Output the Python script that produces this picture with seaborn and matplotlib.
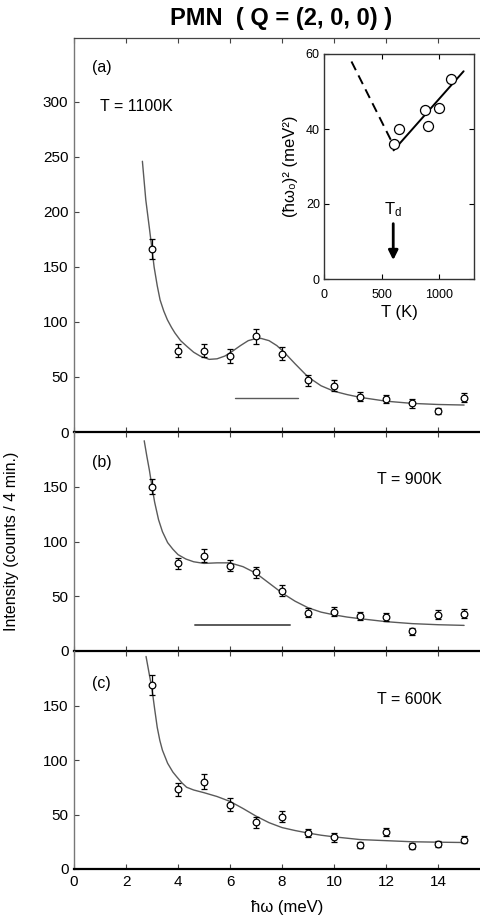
import numpy as np
import pandas as pd
import matplotlib
matplotlib.use("Agg")
import matplotlib.pyplot as plt
import seaborn as sns

# energy transfer (meV) of the measured points, same for all panels
energia = [3, 4, 5, 6, 7, 8, 9, 10, 11, 12, 13, 14, 15]

# (a) T = 1100K
int_a = [166, 74, 74, 69, 87, 71, 47, 42, 32, 30, 26, 19, 31]
err_a = [9, 6, 6, 6, 7, 6, 5, 5, 4, 4, 4, 3, 4]
fit_x_a = [2.63, 2.76, 2.9, 3.0, 3.08, 3.2, 3.31, 3.45, 3.59, 3.75, 3.88, 4.1, 4.33, 4.6, 4.85,
           5.2, 5.5, 5.8, 6.1, 6.4, 6.7, 7.0, 7.2, 7.5, 7.8, 8.1, 8.5, 9.0, 9.5, 10, 10.5, 11,
           12, 13, 14, 15]
fit_y_a = [246, 211, 185, 166, 150, 133, 120, 110, 102, 95, 90, 83, 78, 72.5, 69,
           66, 66.5, 69, 73.5, 78.5, 83, 85, 85, 83, 78.5, 72, 62, 50, 42, 37, 34, 31.5,
           28, 26, 25, 24.5]
res_x_a = [6.2, 8.6]
res_y_a = [31, 31]

# (b) T = 900K
int_b = [150, 80, 87, 78, 72, 55, 35, 36, 32, 31, 18, 33, 34]
err_b = [7, 5, 6, 5, 5, 5, 4, 4, 4, 4, 3, 4, 4]
fit_x_b = [2.7, 2.8, 2.9, 3.0, 3.1, 3.25, 3.4, 3.6, 3.8, 4.0, 4.3, 4.6, 5.0, 5.5, 6.0, 6.5,
           7.0, 7.5, 8.0, 8.5, 9.0, 9.5, 10, 10.5, 11, 12, 13, 14, 15]
fit_y_b = [192, 178, 165, 150, 136, 120, 109, 99, 93, 88, 84, 81.5, 80, 80.5, 80.5, 77,
           71, 62, 53, 45.5, 39.5, 35.5, 33, 31, 29.5, 26.8, 25, 24, 23.4]
res_x_b = [4.65, 8.3]
res_y_b = [23.7, 23.7]

# (c) T = 600K
int_c = [169, 73, 80, 59, 43, 48, 33, 29, 22, 34, 21, 23, 27]
err_c = [9, 6, 7, 6, 5, 5, 4, 4, 3, 4, 3, 3, 3]
fit_x_c = [2.77, 2.9, 3.0, 3.1, 3.2, 3.3, 3.4, 3.6, 3.8, 3.95, 4.15, 4.33, 4.6, 5.0, 5.5, 6.0,
           6.5, 7.0, 7.5, 8.0, 8.5, 9.0, 9.5, 10, 11, 12, 13, 14, 15]
fit_y_c = [195, 178, 165, 147, 130, 118, 109, 97, 89, 84.6, 79, 75, 72.5, 70, 66.5, 62,
           55.5, 48.5, 42.5, 38, 35.3, 33, 31, 29.5, 27, 26, 25, 24.6, 24.3]

# inset: soft mode energy squared vs T
ins_T = [603, 649, 879, 902, 1000, 1100]
ins_w2 = [36.1, 40.0, 45.0, 40.9, 45.6, 53.3]
lin_T = [603, 1210]
lin_w2 = [34.3, 55.4]
dash_T = [238, 592]
dash_w2 = [58, 36.3]
T_d = 600

sns.set_style("ticks")
plt.rcParams['font.family'] = ['Liberation Sans', 'DejaVu Sans']
plt.rcParams['mathtext.fontset'] = 'custom'
plt.rcParams['mathtext.rm'] = 'Liberation Sans'
plt.rcParams['mathtext.it'] = 'Liberation Sans:italic'
for k in ['text.color', 'axes.labelcolor', 'xtick.color', 'ytick.color']:
    plt.rcParams[k] = 'black'

fig = plt.figure(figsize=(4.81, 9.18), dpi=100)
W, H = 481, 918

def px_axes(l, t, r, b):
    return fig.add_axes([l / W, 1 - b / H, (r - l) / W, (b - t) / H])

ax_a = px_axes(74, 38, 481, 432)
ax_b = px_axes(74, 432, 481, 651)
ax_c = px_axes(74, 651, 481, 869)

paneles = [
    (ax_a, int_a, err_a, fit_x_a, fit_y_a, 358, [0, 50, 100, 150, 200, 250, 300]),
    (ax_b, int_b, err_b, fit_x_b, fit_y_b, 200, [0, 50, 100, 150]),
    (ax_c, int_c, err_c, fit_x_c, fit_y_c, 200, [0, 50, 100, 150]),
]

gris = '#5a5a5a'
for ax, yv, ye, fx, fy, ytop, yt in paneles:
    df = pd.DataFrame({'x': fx, 'y': fy})
    sns.lineplot(data=df, x='x', y='y', ax=ax, color=gris, lw=1.0,
                 sort=False, estimator=None)
    ax.errorbar(energia, yv, yerr=ye, fmt='o', mfc='white', mec='black',
                mew=0.9, ms=4.8, ecolor='black', elinewidth=0.9,
                capsize=2.5, capthick=0.9, zorder=5)
    ax.set_xlim(0, 15.65)
    ax.set_ylim(0, ytop)
    ax.set_yticks(yt)
    ax.set_xticks([0, 2, 4, 6, 8, 10, 12, 14])
    ax.tick_params(axis='both', direction='in', length=3.5, width=0.8,
                   labelsize=11, pad=4)
    ax.tick_params(axis='both', color='#444444')
    ax.tick_params(axis='x', top=True)
    ax.spines['right'].set_visible(False)
    ax.spines['left'].set_color('#777777')
    ax.spines['left'].set_linewidth(1.0)
    ax.spines['bottom'].set_color('black')
    ax.spines['bottom'].set_linewidth(1.6)
    ax.spines['top'].set_visible(False)
    ax.set_xlabel('')
    ax.set_ylabel('')
    ax.set_facecolor('none')

for ax in (ax_a, ax_b):
    ax.tick_params(axis='x', labelbottom=False)

ax_a.spines['top'].set_visible(True)
ax_a.spines['top'].set_color('#444444')
ax_a.spines['top'].set_linewidth(0.9)

ax_a.plot(res_x_a, res_y_a, color=gris, lw=1.0)
ax_b.plot(res_x_b, res_y_b, color=gris, lw=1.4)

ax_a.text(0.69, 331, '(a)', fontsize=11.5, va='center')
ax_a.text(1.0, 296, 'T = 1100K', fontsize=11.5, va='center')
ax_b.text(0.69, 172, '(b)', fontsize=11.5, va='center')
ax_b.text(11.65, 157, 'T = 900K', fontsize=11.5, va='center')
ax_c.text(0.69, 170, '(c)', fontsize=11.5, va='center')
ax_c.text(11.65, 155.5, 'T = 600K', fontsize=11.5, va='center')

ax_c.set_xlabel('ħω (meV)', fontsize=12, labelpad=3)
ax_c.xaxis.set_label_coords(0.523, -0.14)
ax_b.set_ylabel('Intensity (counts / 4 min.)', fontsize=11.5)
ax_b.yaxis.set_label_coords(-0.135, 0.5)

fig.text(0.584, 0.980, 'PMN  ( Q = (2, 0, 0) )', ha='center', va='center',
         fontsize=17, fontweight='bold')

# inset
ax_i = px_axes(324, 54, 474, 279)
ax_i.set_facecolor('white')
sns.scatterplot(x=ins_T, y=ins_w2, ax=ax_i, marker='o', s=52,
                facecolor='white', edgecolor='black', linewidth=0.9, zorder=5)
ax_i.plot(lin_T, lin_w2, color='black', lw=1.4)
ax_i.plot(dash_T, dash_w2, color='black', lw=1.4, ls=(0, (5, 3)))
ax_i.set_xlim(0, 1300)
ax_i.set_ylim(0, 60)
ax_i.set_xticks([0, 500, 1000])
ax_i.set_yticks([0, 20, 40, 60])
ax_i.tick_params(axis='both', direction='in', length=3.5, width=0.8,
                 labelsize=9, top=True, right=True)
ax_i.tick_params(axis='x', pad=7)
ax_i.tick_params(axis='y', pad=3)
for s in ax_i.spines.values():
    s.set_visible(True)
    s.set_color('#333333')
    s.set_linewidth(1.0)
ax_i.set_xlabel('T (K)', fontsize=12, labelpad=3)
ax_i.set_ylabel('(ħω₀)² (meV²)', fontsize=12, labelpad=6)
ax_i.text(T_d, 18.5, r'T$_{\rm d}$', fontsize=12, ha='center', va='center')
ax_i.annotate('', xy=(T_d, 4.3), xytext=(T_d, 15.5),
              arrowprops=dict(arrowstyle='-|>', color='black', lw=2.0,
                              mutation_scale=14))

fig.savefig('out.png', dpi=100)
